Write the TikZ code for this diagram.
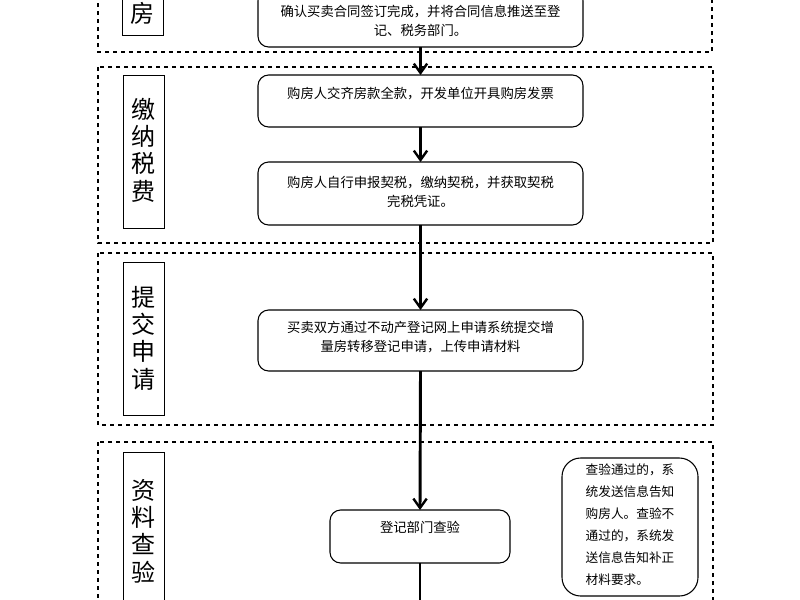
\documentclass[tikz,border=0pt]{standalone}
\usepackage{fontspec}
\setmainfont{Noto Sans CJK SC}
\usetikzlibrary{arrows.meta}
\begin{document}
\begin{tikzpicture}[x=0.75pt,y=-0.75pt,
  sec/.style={draw,dashed,line width=0.8pt},
  lab/.style={draw,line width=0.7pt},
  stp/.style={draw,rounded corners=8pt,line width=0.8pt},
  txt/.style={font=\fontsize{10pt}{14.5pt}\selectfont,align=center},
  ltxt/.style={font=\fontsize{18pt}{20.5pt}\selectfont,align=center},
  arr/.style={line width=2.2pt,-{Straight Barb[length=7pt,width=10pt,line width=1.8pt]}}]
\useasboundingbox (0,0) rectangle (800,600);
% sections
\draw[sec] (98,-5) rectangle (712,52);
\draw[sec] (98,67) rectangle (713,243);
\draw[sec] (98,253) rectangle (713,425);
\draw[sec] (98,442) rectangle (713,610);
% label boxes
\draw[lab] (122,-5) rectangle (163,35);
\node[ltxt] (l1) at (142.5,13) {房};
\draw[lab] (123,75) rectangle (164,228);
\node[ltxt] (l2) at (143.5,150) {缴\\纳\\税\\费};
\draw[lab] (123,262) rectangle (164,415);
\node[ltxt] (l3) at (143.5,338) {提\\交\\申\\请};
\draw[lab] (123,452) rectangle (164,610);
\node[ltxt] (l4) at (143.5,531) {资\\料\\查\\验};
% step boxes
\draw[stp] (258,-10) rectangle (583,47);
\node[txt] (b1) at (420.5,21) {确认买卖合同签订完成，并将合同信息推送至登\\记、税务部门。};
\coordinate (b1s) at (420.5,47);
\draw[stp] (258,75) rectangle (583,127);
\node[txt] (b2) at (420.5,94) {购房人交齐房款全款，开发单位开具购房发票};
\coordinate (b2n) at (420.5,75); \coordinate (b2s) at (420.5,127);
\draw[stp] (258,162) rectangle (583,225);
\node[txt] (b3) at (420.5,192) {购房人自行申报契税，缴纳契税，并获取契税\\完税凭证。};
\coordinate (b3n) at (420.5,162); \coordinate (b3s) at (420.5,225);
\draw[stp] (258,310) rectangle (583,371);
\node[txt] (b4) at (420.5,337) {买卖双方通过不动产登记网上申请系统提交增\\量房转移登记申请，上传申请材料};
\coordinate (b4n) at (420.5,310); \coordinate (b4s) at (420.5,371);
\draw[stp] (330,510) rectangle (510,563);
\node[txt] (b5) at (420,527) {登记部门查验};
\coordinate (b5n) at (420,510); \coordinate (b5s) at (420,563);
\coordinate (bot) at (420,600);
\draw[stp,rounded corners=14pt] (562,458) rectangle (698,596);
\node[font=\fontsize{9.5pt}{16.5pt}\selectfont,align=left] (note) at (630,525) {查验通过的，系\\统发送信息告知\\购房人。查验不\\通过的，系统发\\送信息告知补正\\材料要求。};
% arrows
\draw[arr] (b1s) -- (b2n);
\draw[arr] (b2s) -- (b3n);
\draw[arr] (b3s) -- (b4n);
\draw[arr] (b4s) -- (b5n);
\draw[line width=2.2pt] (b5s) -- (bot);
\end{tikzpicture}
\end{document}
